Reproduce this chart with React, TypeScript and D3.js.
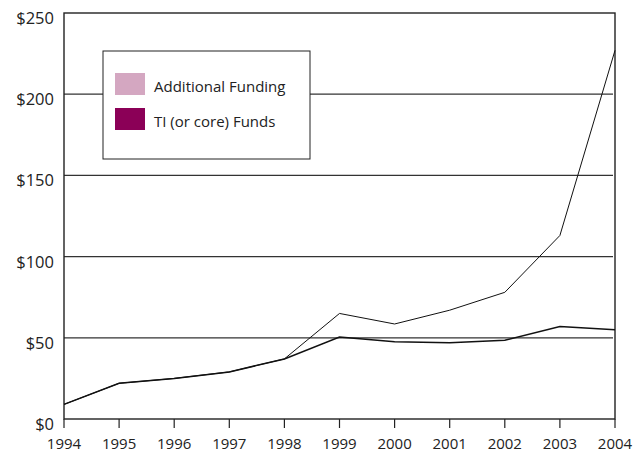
import React, { useEffect, useRef } from "react";
import * as d3 from "d3";

const years = [1994, 1995, 1996, 1997, 1998, 1999, 2000, 2001, 2002, 2003, 2004];
const coreFunds = [9, 22, 25, 29, 37, 50.5, 47.5, 47, 48.5, 57, 55];
const totalFunds = [9, 22, 25, 29, 37, 65, 58.5, 67, 78, 113, 227];
const yTicks = [0, 50, 100, 150, 200, 250];
const legendItems = [
  { label: "Additional Funding", color: "#d4a7c1" },
  { label: "TI (or core) Funds", color: "#8b0057" },
];

const FONT = "'Open Sans', 'DejaVu Sans', sans-serif";

const App = () => {
  const svgRef = useRef<SVGSVGElement | null>(null);

  useEffect(() => {
    const root = d3.select(svgRef.current);
    root.selectAll("*").remove();

    const margin = { top: 13, right: 18, bottom: 35, left: 64 },
      width = 633 - margin.left - margin.right,
      height = 455 - margin.top - margin.bottom - 1;

    const svg = root
      .append("g")
      .attr("transform", "translate(" + margin.left + "," + margin.top + ")");

    const x = d3.scaleLinear().domain([1994, 2004]).range([0, width]);
    const y = d3.scaleLinear().domain([0, 250]).range([height, 0]);

    // gridlines
    svg
      .selectAll(".grid")
      .data(yTicks.filter((t) => t > 0 && t < 250))
      .enter()
      .append("line")
      .attr("x1", 0)
      .attr("x2", width - 2)
      .attr("y1", (d) => y(d))
      .attr("y2", (d) => y(d))
      .attr("stroke", "#333")
      .attr("stroke-width", 1.2);

    // frame
    svg
      .append("rect")
      .attr("x", 0)
      .attr("y", 0)
      .attr("width", width)
      .attr("height", height)
      .attr("fill", "none")
      .attr("stroke", "#222")
      .attr("stroke-width", 1.4);

    // x ticks
    svg
      .selectAll(".xtick")
      .data(years)
      .enter()
      .append("line")
      .attr("x1", (d) => x(d))
      .attr("x2", (d) => x(d))
      .attr("y1", height)
      .attr("y2", height + 9)
      .attr("stroke", "#222")
      .attr("stroke-width", 1.2);

    svg
      .selectAll(".xlabel")
      .data(years)
      .enter()
      .append("text")
      .attr("x", (d) => x(d))
      .attr("y", height + 30)
      .attr("text-anchor", "middle")
      .style("font-family", FONT)
      .style("font-size", "15px")
      .attr("fill", "#222")
      .text((d) => String(d));

    svg
      .selectAll(".ylabel")
      .data(yTicks)
      .enter()
      .append("text")
      .attr("x", -10)
      .attr("y", (d) => y(d) + 11)
      .attr("text-anchor", "end")
      .style("font-family", FONT)
      .style("font-size", "16.5px")
      .attr("fill", "#222")
      .text((d) => "$" + d);

    const line = d3
      .line<number>()
      .x((d, i) => x(years[i]))
      .y((d) => y(d));

    svg
      .append("path")
      .datum(totalFunds)
      .attr("fill", "none")
      .attr("stroke", "#111")
      .attr("stroke-width", 1)
      .attr("d", line);

    svg
      .append("path")
      .datum(coreFunds)
      .attr("fill", "none")
      .attr("stroke", "#111")
      .attr("stroke-width", 1.5)
      .attr("d", line);

    // legend
    const legend = svg.append("g").attr("transform", "translate(39,38)");
    legend
      .append("rect")
      .attr("x", 0)
      .attr("y", 0)
      .attr("width", 207)
      .attr("height", 108)
      .attr("fill", "white")
      .attr("stroke", "#222")
      .attr("stroke-width", 1);

    legend
      .selectAll(".item")
      .data(legendItems)
      .enter()
      .append("rect")
      .attr("x", 12)
      .attr("y", (d, i) => 22 + i * 35)
      .attr("width", 30)
      .attr("height", 22)
      .attr("fill", (d) => d.color);

    legend
      .selectAll(".itemlabel")
      .data(legendItems)
      .enter()
      .append("text")
      .attr("x", 51)
      .attr("y", (d, i) => 41 + i * 35)
      .style("font-family", FONT)
      .style("font-size", "15px")
      .attr("fill", "#222")
      .text((d) => d.label);
  }, []);

  return (
    <svg
      ref={svgRef}
      width={633}
      height={455}
      style={{ display: "block", position: "fixed", left: 0, top: 0, background: "white" }}
    />
  );
};

export default App;
